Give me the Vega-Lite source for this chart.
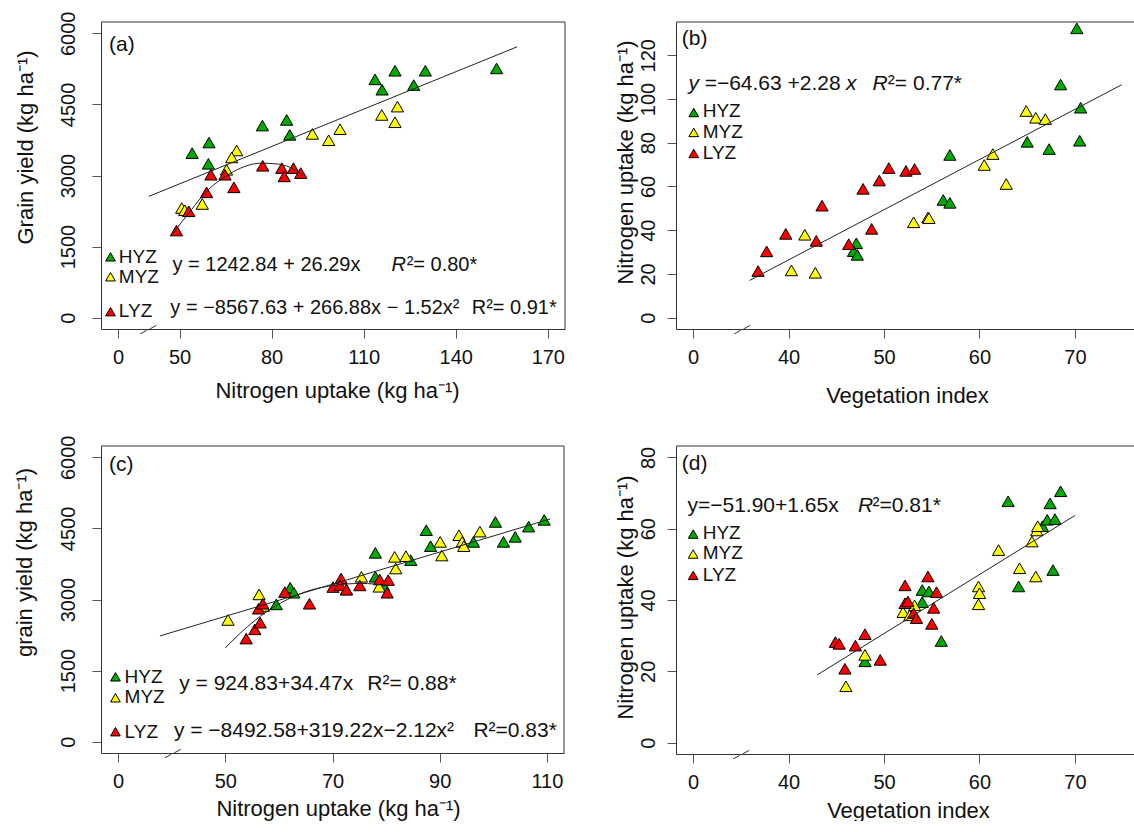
{
  "$schema": "https://vega.github.io/schema/vega-lite/v6.json",
  "background": "white",
  "padding": {"left": 12, "top": 11, "right": 0, "bottom": 0},
  "config": {
    "font": "Liberation Sans",
    "view": {"stroke": null},
    "axis": {
      "grid": false, "domain": true, "domainColor": "#333", "domainWidth": 1,
      "tickColor": "#555", "tickSize": 9, "tickWidth": 1,
      "labelFont": "Liberation Sans", "labelFontSize": 20, "labelColor": "#111",
      "titleFont": "Liberation Sans", "titleFontSize": 22, "titleFontWeight": "normal", "titleColor": "#111",
      "labelFlush": false, "labelOverlap": false
    },
    "axisY": {"labelAngle": -90, "labelAlign": "center", "labelBaseline": "alphabetic", "titleAngle": -90, "titleAlign": "center", "titleBaseline": "alphabetic", "format": "d"},
    "axisX": {"labelPadding": 9, "titleBaseline": "alphabetic", "titleAlign": "center"},
    "text": {"font": "Liberation Sans", "color": "#111", "align": "left", "baseline": "middle", "fontSize": 20},
    "line": {"color": "#222", "strokeWidth": 1},
    "rule": {"color": "#333", "strokeWidth": 1}
  },
  "datasets": {
    "a": [
      {"g":"HYZ","x":54.1,"y":3472},{"g":"HYZ","x":59.6,"y":3696},{"g":"HYZ","x":59.4,"y":3247},{"g":"HYZ","x":77.0,"y":4054},{"g":"HYZ","x":84.9,"y":4173},{"g":"HYZ","x":85.9,"y":3857},{"g":"HYZ","x":113.7,"y":5029},{"g":"HYZ","x":120.2,"y":5211},{"g":"HYZ","x":116.0,"y":4811},{"g":"HYZ","x":130.1,"y":5211},{"g":"HYZ","x":126.3,"y":4909},{"g":"HYZ","x":153.3,"y":5260},
      {"g":"MYZ","x":68.6,"y":3528},{"g":"MYZ","x":67.0,"y":3381},{"g":"MYZ","x":65.3,"y":3120},{"g":"MYZ","x":57.4,"y":2399},{"g":"MYZ","x":50.7,"y":2314},{"g":"MYZ","x":51.7,"y":2266},{"g":"MYZ","x":93.3,"y":3878},{"g":"MYZ","x":98.6,"y":3745},{"g":"MYZ","x":102.3,"y":3977},{"g":"MYZ","x":115.9,"y":4278},{"g":"MYZ","x":121.0,"y":4454},{"g":"MYZ","x":120.2,"y":4124},
      {"g":"LYZ","x":49.0,"y":1838},{"g":"LYZ","x":53.0,"y":2245},{"g":"LYZ","x":58.8,"y":2644},{"g":"LYZ","x":60.2,"y":3016},{"g":"LYZ","x":64.8,"y":3016},{"g":"LYZ","x":67.7,"y":2750},{"g":"LYZ","x":77.1,"y":3205},{"g":"LYZ","x":83.3,"y":3156},{"g":"LYZ","x":84.1,"y":2981},{"g":"LYZ","x":87.1,"y":3156},{"g":"LYZ","x":89.5,"y":3051}
    ],
    "a_lin": [{"x":40,"y":2560},{"x":160,"y":5716}],
    "a_quad": [{"x":47.1,"y":1719},{"x":53.9,"y":2279},{"x":58.3,"y":2630},{"x":65.9,"y":3016},{"x":71.3,"y":3192},{"x":76.7,"y":3261},{"x":82.2,"y":3240},{"x":87.6,"y":3120},{"x":90.3,"y":2994}],
    "b": [
      {"g":"HYZ","x":47.1,"y":34.0},{"g":"HYZ","x":46.8,"y":30.4},{"g":"HYZ","x":47.2,"y":28.7},{"g":"HYZ","x":56.2,"y":53.8},{"g":"HYZ","x":56.9,"y":52.5},{"g":"HYZ","x":56.9,"y":74.4},{"g":"HYZ","x":65.0,"y":80.4},{"g":"HYZ","x":67.3,"y":77.1},{"g":"HYZ","x":68.5,"y":106.6},{"g":"HYZ","x":70.2,"y":132.3},{"g":"HYZ","x":70.6,"y":96.0},{"g":"HYZ","x":70.5,"y":80.9},
      {"g":"MYZ","x":40.3,"y":21.6},{"g":"MYZ","x":41.7,"y":37.9},{"g":"MYZ","x":42.8,"y":20.5},{"g":"MYZ","x":53.1,"y":43.6},{"g":"MYZ","x":54.6,"y":45.8},{"g":"MYZ","x":54.7,"y":45.5},{"g":"MYZ","x":60.5,"y":69.8},{"g":"MYZ","x":61.4,"y":74.8},{"g":"MYZ","x":62.8,"y":61.1},{"g":"MYZ","x":64.9,"y":94.5},{"g":"MYZ","x":65.9,"y":91.4},{"g":"MYZ","x":66.9,"y":90.8},
      {"g":"LYZ","x":36.8,"y":21.3},{"g":"LYZ","x":37.7,"y":30.3},{"g":"LYZ","x":39.7,"y":38.3},{"g":"LYZ","x":42.9,"y":35.1},{"g":"LYZ","x":43.5,"y":51.2},{"g":"LYZ","x":46.3,"y":33.6},{"g":"LYZ","x":47.8,"y":58.9},{"g":"LYZ","x":48.7,"y":40.6},{"g":"LYZ","x":49.5,"y":62.7},{"g":"LYZ","x":50.5,"y":68.4},{"g":"LYZ","x":52.3,"y":67.1},{"g":"LYZ","x":53.2,"y":68.0}
    ],
    "b_lin": [{"x":35.9,"y":17.0},{"x":74.9,"y":106.5}],
    "c": [
      {"g":"HYZ","x":59.5,"y":2897},{"g":"HYZ","x":62.1,"y":3248},{"g":"HYZ","x":62.8,"y":3143},{"g":"HYZ","x":78.0,"y":3985},{"g":"HYZ","x":78.0,"y":3479},{"g":"HYZ","x":79.6,"y":3284},{"g":"HYZ","x":84.6,"y":3831},{"g":"HYZ","x":87.5,"y":4463},{"g":"HYZ","x":88.3,"y":4126},{"g":"HYZ","x":96.3,"y":4216},{"g":"HYZ","x":100.4,"y":4637},{"g":"HYZ","x":101.9,"y":4216},{"g":"HYZ","x":104.1,"y":4322},{"g":"HYZ","x":106.6,"y":4538},{"g":"HYZ","x":109.5,"y":4680},
      {"g":"MYZ","x":50.5,"y":2568},{"g":"MYZ","x":56.3,"y":3107},{"g":"MYZ","x":57.1,"y":2863},{"g":"MYZ","x":72.6,"y":3212},{"g":"MYZ","x":75.4,"y":3479},{"g":"MYZ","x":78.7,"y":3269},{"g":"MYZ","x":81.6,"y":3900},{"g":"MYZ","x":81.8,"y":3654},{"g":"MYZ","x":83.7,"y":3915},{"g":"MYZ","x":90.1,"y":4216},{"g":"MYZ","x":90.4,"y":3928},{"g":"MYZ","x":93.6,"y":4357},{"g":"MYZ","x":94.2,"y":4216},{"g":"MYZ","x":94.5,"y":4126},{"g":"MYZ","x":97.5,"y":4433},
      {"g":"LYZ","x":53.9,"y":2175},{"g":"LYZ","x":55.5,"y":2370},{"g":"LYZ","x":56.5,"y":2511},{"g":"LYZ","x":56.2,"y":2806},{"g":"LYZ","x":57.0,"y":2911},{"g":"LYZ","x":61.1,"y":3157},{"g":"LYZ","x":65.7,"y":2911},{"g":"LYZ","x":70.1,"y":3263},{"g":"LYZ","x":71.6,"y":3444},{"g":"LYZ","x":71.4,"y":3305},{"g":"LYZ","x":72.6,"y":3206},{"g":"LYZ","x":75.1,"y":3297},{"g":"LYZ","x":78.8,"y":3423},{"g":"LYZ","x":80.4,"y":3410},{"g":"LYZ","x":80.2,"y":3143}
    ],
    "c_lin": [{"x":37.8,"y":2231},{"x":110.6,"y":4700}],
    "c_quad": [{"x":50.0,"y":1979},{"x":52.9,"y":2302},{"x":57.9,"y":2757},{"x":61.6,"y":3002},{"x":66.0,"y":3200},{"x":70.3,"y":3297},{"x":75.3,"y":3339},{"x":80.3,"y":3300}],
    "d": [
      {"g":"HYZ","x":48.0,"y":22.8},{"g":"HYZ","x":54.0,"y":42.8},{"g":"HYZ","x":54.7,"y":42.4},{"g":"HYZ","x":54.0,"y":39.4},{"g":"HYZ","x":56.0,"y":28.5},{"g":"HYZ","x":63.0,"y":67.7},{"g":"HYZ","x":64.1,"y":43.8},{"g":"HYZ","x":66.6,"y":60.7},{"g":"HYZ","x":67.1,"y":62.5},{"g":"HYZ","x":67.4,"y":67.1},{"g":"HYZ","x":67.9,"y":62.7},{"g":"HYZ","x":67.7,"y":48.4},{"g":"HYZ","x":68.5,"y":70.5},
      {"g":"MYZ","x":46.0,"y":15.8},{"g":"MYZ","x":48.0,"y":24.6},{"g":"MYZ","x":52.0,"y":36.6},{"g":"MYZ","x":52.7,"y":35.7},{"g":"MYZ","x":53.2,"y":38.5},{"g":"MYZ","x":59.9,"y":43.8},{"g":"MYZ","x":60.0,"y":41.9},{"g":"MYZ","x":59.9,"y":38.8},{"g":"MYZ","x":62.0,"y":54.0},{"g":"MYZ","x":64.2,"y":48.9},{"g":"MYZ","x":65.5,"y":56.4},{"g":"MYZ","x":65.9,"y":46.6},{"g":"MYZ","x":66.0,"y":59.5},{"g":"MYZ","x":66.1,"y":60.7},
      {"g":"LYZ","x":44.9,"y":28.2},{"g":"LYZ","x":45.3,"y":27.7},{"g":"LYZ","x":45.9,"y":20.7},{"g":"LYZ","x":47.0,"y":27.2},{"g":"LYZ","x":48.0,"y":30.4},{"g":"LYZ","x":49.6,"y":23.2},{"g":"LYZ","x":52.2,"y":44.1},{"g":"LYZ","x":52.2,"y":39.1},{"g":"LYZ","x":52.5,"y":39.6},{"g":"LYZ","x":53.1,"y":36.3},{"g":"LYZ","x":53.4,"y":34.9},{"g":"LYZ","x":54.6,"y":46.6},{"g":"LYZ","x":55.0,"y":33.3},{"g":"LYZ","x":55.2,"y":37.8},{"g":"LYZ","x":55.5,"y":42.2}
    ],
    "d_lin": [{"x":43.0,"y":19.0},{"x":70.0,"y":63.7}],
    "one": [{}]
  },
  "columns": 2,
  "spacing": {"row": 117, "column": 111},
  "bounds": "flush",
  "resolve": {"scale": {"x": "independent", "y": "independent", "color": "independent"}},
  "concat": [
    {
      "width": 464, "height": 307,
      "layer": [
        {"data": {"name": "one"}, "mark": "rule", "encoding": {"y": {"datum": 6240, "type": "quantitative"}}},
        {"data": {"name": "one"}, "mark": "rule", "encoding": {"x": {"datum": 175.6, "type": "quantitative"}}},
        {"data": {"name": "a"},
         "mark": {"type": "point", "shape": "triangle-up", "filled": true, "size": 150, "stroke": "#000", "strokeWidth": 1, "opacity": 1},
         "encoding": {
           "x": {"field": "x", "type": "quantitative", "scale": {"domain": [24.4, 175.6], "nice": false, "zero": false},
                 "axis": {"values": [30, 50, 80, 110, 140, 170], "labelExpr": "datum.value == 30 ? '0' : datum.label", "title": "Nitrogen uptake (kg ha⁻¹)", "titleX": 236, "titleY": 68}},
           "y": {"field": "y", "type": "quantitative", "scale": {"domain": [-240, 6240], "nice": false, "zero": false},
                 "axis": {"values": [0, 1500, 3000, 4500, 6000], "title": "Grain yield (kg ha⁻¹)", "titleX": -69, "titleY": 125, "labelPadding": 18}},
           "color": {"field": "g", "type": "nominal", "scale": {"domain": ["HYZ", "MYZ", "LYZ"], "range": ["#00AA00", "#FFFF00", "#FF0000"]}, "legend": null}
         }},
        {"data": {"name": "a_lin"}, "mark": "line", "encoding": {"x": {"field": "x", "type": "quantitative"}, "y": {"field": "y", "type": "quantitative"}}},
        {"data": {"name": "a_quad"}, "mark": {"type": "line", "interpolate": "monotone"}, "encoding": {"x": {"field": "x", "type": "quantitative"}, "y": {"field": "y", "type": "quantitative"}}},
        {"data": {"name": "one"}, "mark": {"type": "text", "text": "(a)", "fontSize": 21}, "encoding": {"x": {"datum": 27.0}, "y": {"datum": 5750}}},
        {"data": {"name": "one"}, "mark": {"type": "point", "shape": "triangle-up", "filled": true, "size": 95, "fill": "#00AA00", "stroke": "#000", "strokeWidth": 1, "opacity": 1}, "encoding": {"x": {"datum": 27.5}, "y": {"datum": 1283}}},
        {"data": {"name": "one"}, "mark": {"type": "point", "shape": "triangle-up", "filled": true, "size": 95, "fill": "#FFFF00", "stroke": "#000", "strokeWidth": 1, "opacity": 1}, "encoding": {"x": {"datum": 27.5}, "y": {"datum": 863}}},
        {"data": {"name": "one"}, "mark": {"type": "point", "shape": "triangle-up", "filled": true, "size": 95, "fill": "#FF0000", "stroke": "#000", "strokeWidth": 1, "opacity": 1}, "encoding": {"x": {"datum": 27.5}, "y": {"datum": 126}}},
        {"data": {"name": "one"}, "mark": {"type": "text", "text": "HYZ", "fontSize": 19}, "encoding": {"x": {"datum": 30.2}, "y": {"datum": 1283}}},
        {"data": {"name": "one"}, "mark": {"type": "text", "text": "MYZ", "fontSize": 19}, "encoding": {"x": {"datum": 30.2}, "y": {"datum": 863}}},
        {"data": {"name": "one"}, "mark": {"type": "text", "text": "LYZ", "fontSize": 19}, "encoding": {"x": {"datum": 30.2}, "y": {"datum": 130}}},
        {"data": {"name": "one"}, "mark": {"type": "text", "text": "y = 1242.84 + 26.29x"}, "encoding": {"x": {"datum": 47.7}, "y": {"datum": 1121}}},
        {"data": {"name": "one"}, "mark": {"type": "text", "text": "R", "fontStyle": "italic"}, "encoding": {"x": {"datum": 119.1}, "y": {"datum": 1121}}},
        {"data": {"name": "one"}, "mark": {"type": "text", "text": "²= 0.80*"}, "encoding": {"x": {"datum": 124.0}, "y": {"datum": 1121}}},
        {"data": {"name": "one"}, "mark": {"type": "text", "text": "y = −8567.63 + 266.88x − 1.52x²"}, "encoding": {"x": {"datum": 47.0}, "y": {"datum": 210}}},
        {"data": {"name": "one"}, "mark": {"type": "text", "text": "R²= 0.91*"}, "encoding": {"x": {"datum": 145.2}, "y": {"datum": 210}}},
        {"data": {"name": "one"}, "mark": {"type": "text", "text": "– –", "align": "center", "fontSize": 13, "angle": -28, "color": "#333"}, "encoding": {"x": {"datum": 39.7}, "y": {"datum": -240}}}
      ]
    },
    {
      "width": 460, "height": 307,
      "layer": [
        {"data": {"name": "one"}, "mark": "rule", "encoding": {"y": {"datum": 135.2, "type": "quantitative"}}},
        {"data": {"name": "b"},
         "mark": {"type": "point", "shape": "triangle-up", "filled": true, "size": 150, "stroke": "#000", "strokeWidth": 1, "opacity": 1},
         "encoding": {
           "x": {"field": "x", "type": "quantitative", "scale": {"domain": [28.2, 76.4], "nice": false, "zero": false},
                 "axis": {"values": [30, 40, 50, 60, 70], "labelExpr": "datum.value == 30 ? '0' : datum.label", "title": "Vegetation index", "titleX": 231, "titleY": 73}},
           "y": {"field": "y", "type": "quantitative", "scale": {"domain": [-5.2, 135.2], "nice": false, "zero": false},
                 "axis": {"values": [0, 20, 40, 60, 80, 100, 120], "title": "Nitrogen uptake (kg ha⁻¹)", "titleX": -44, "titleY": 140, "labelPadding": 13}},
           "color": {"field": "g", "type": "nominal", "scale": {"domain": ["HYZ", "MYZ", "LYZ"], "range": ["#00AA00", "#FFFF00", "#FF0000"]}, "legend": null}
         }},
        {"data": {"name": "b_lin"}, "mark": "line", "encoding": {"x": {"field": "x", "type": "quantitative"}, "y": {"field": "y", "type": "quantitative"}}},
        {"data": {"name": "one"}, "mark": {"type": "text", "text": "(b)", "fontSize": 21}, "encoding": {"x": {"datum": 28.8}, "y": {"datum": 127.3}}},
        {"data": {"name": "one"}, "mark": {"type": "text", "text": "y", "fontStyle": "italic", "fontSize": 21}, "encoding": {"x": {"datum": 29.5}, "y": {"datum": 106.8}}},
        {"data": {"name": "one"}, "mark": {"type": "text", "text": "=−64.63 +2.28", "fontSize": 21}, "encoding": {"x": {"datum": 31.2}, "y": {"datum": 106.8}}},
        {"data": {"name": "one"}, "mark": {"type": "text", "text": "x", "fontStyle": "italic", "fontSize": 21}, "encoding": {"x": {"datum": 46.0}, "y": {"datum": 106.8}}},
        {"data": {"name": "one"}, "mark": {"type": "text", "text": "R", "fontStyle": "italic", "fontSize": 21}, "encoding": {"x": {"datum": 48.8}, "y": {"datum": 106.8}}},
        {"data": {"name": "one"}, "mark": {"type": "text", "text": "²= 0.77*", "fontSize": 21}, "encoding": {"x": {"datum": 50.4}, "y": {"datum": 106.8}}},
        {"data": {"name": "one"}, "mark": {"type": "point", "shape": "triangle-up", "filled": true, "size": 95, "fill": "#00AA00", "stroke": "#000", "strokeWidth": 1, "opacity": 1}, "encoding": {"x": {"datum": 30.06}, "y": {"datum": 93.8}}},
        {"data": {"name": "one"}, "mark": {"type": "point", "shape": "triangle-up", "filled": true, "size": 95, "fill": "#FFFF00", "stroke": "#000", "strokeWidth": 1, "opacity": 1}, "encoding": {"x": {"datum": 30.06}, "y": {"datum": 84.7}}},
        {"data": {"name": "one"}, "mark": {"type": "point", "shape": "triangle-up", "filled": true, "size": 95, "fill": "#FF0000", "stroke": "#000", "strokeWidth": 1, "opacity": 1}, "encoding": {"x": {"datum": 30.06}, "y": {"datum": 75.1}}},
        {"data": {"name": "one"}, "mark": {"type": "text", "text": "HYZ", "fontSize": 19}, "encoding": {"x": {"datum": 31.0}, "y": {"datum": 94.3}}},
        {"data": {"name": "one"}, "mark": {"type": "text", "text": "MYZ", "fontSize": 19}, "encoding": {"x": {"datum": 31.0}, "y": {"datum": 85.0}}},
        {"data": {"name": "one"}, "mark": {"type": "text", "text": "LYZ", "fontSize": 19}, "encoding": {"x": {"datum": 31.0}, "y": {"datum": 75.2}}},
        {"data": {"name": "one"}, "mark": {"type": "text", "text": "– –", "align": "center", "fontSize": 13, "angle": -28, "color": "#333"}, "encoding": {"x": {"datum": 35.1}, "y": {"datum": -5.2}}}
      ]
    },
    {
      "width": 463, "height": 307,
      "layer": [
        {"data": {"name": "one"}, "mark": "rule", "encoding": {"y": {"datum": 6240, "type": "quantitative"}}},
        {"data": {"name": "one"}, "mark": "rule", "encoding": {"x": {"datum": 113.2, "type": "quantitative"}}},
        {"data": {"name": "c"},
         "mark": {"type": "point", "shape": "triangle-up", "filled": true, "size": 150, "stroke": "#000", "strokeWidth": 1, "opacity": 1},
         "encoding": {
           "x": {"field": "x", "type": "quantitative", "scale": {"domain": [26.8, 113.2], "nice": false, "zero": false},
                 "axis": {"values": [30, 50, 70, 90, 110], "labelExpr": "datum.value == 30 ? '0' : datum.label", "title": "Nitrogen uptake (kg ha⁻¹)", "titleX": 237, "titleY": 62}},
           "y": {"field": "y", "type": "quantitative", "scale": {"domain": [-240, 6240], "nice": false, "zero": false},
                 "axis": {"values": [0, 1500, 3000, 4500, 6000], "title": "grain yield (kg ha⁻¹)", "titleX": -70, "titleY": 116, "labelPadding": 18}},
           "color": {"field": "g", "type": "nominal", "scale": {"domain": ["HYZ", "MYZ", "LYZ"], "range": ["#00AA00", "#FFFF00", "#FF0000"]}, "legend": null}
         }},
        {"data": {"name": "c_lin"}, "mark": "line", "encoding": {"x": {"field": "x", "type": "quantitative"}, "y": {"field": "y", "type": "quantitative"}}},
        {"data": {"name": "c_quad"}, "mark": {"type": "line", "interpolate": "monotone"}, "encoding": {"x": {"field": "x", "type": "quantitative"}, "y": {"field": "y", "type": "quantitative"}}},
        {"data": {"name": "one"}, "mark": {"type": "text", "text": "(c)", "fontSize": 21}, "encoding": {"x": {"datum": 28.3}, "y": {"datum": 5843}}},
        {"data": {"name": "one"}, "mark": {"type": "point", "shape": "triangle-up", "filled": true, "size": 95, "fill": "#00AA00", "stroke": "#000", "strokeWidth": 1, "opacity": 1}, "encoding": {"x": {"datum": 29.5}, "y": {"datum": 1368}}},
        {"data": {"name": "one"}, "mark": {"type": "point", "shape": "triangle-up", "filled": true, "size": 95, "fill": "#FFFF00", "stroke": "#000", "strokeWidth": 1, "opacity": 1}, "encoding": {"x": {"datum": 29.5}, "y": {"datum": 926}}},
        {"data": {"name": "one"}, "mark": {"type": "point", "shape": "triangle-up", "filled": true, "size": 95, "fill": "#FF0000", "stroke": "#000", "strokeWidth": 1, "opacity": 1}, "encoding": {"x": {"datum": 29.5}, "y": {"datum": 210}}},
        {"data": {"name": "one"}, "mark": {"type": "text", "text": "HYZ", "fontSize": 19}, "encoding": {"x": {"datum": 31.2}, "y": {"datum": 1370}}},
        {"data": {"name": "one"}, "mark": {"type": "text", "text": "MYZ", "fontSize": 19}, "encoding": {"x": {"datum": 31.2}, "y": {"datum": 940}}},
        {"data": {"name": "one"}, "mark": {"type": "text", "text": "LYZ", "fontSize": 19}, "encoding": {"x": {"datum": 31.2}, "y": {"datum": 213}}},
        {"data": {"name": "one"}, "mark": {"type": "text", "text": "y = 924.83+34.47x", "fontSize": 21}, "encoding": {"x": {"datum": 41.4}, "y": {"datum": 1212}}},
        {"data": {"name": "one"}, "mark": {"type": "text", "text": "R²= 0.88*", "fontSize": 21}, "encoding": {"x": {"datum": 76.5}, "y": {"datum": 1212}}},
        {"data": {"name": "one"}, "mark": {"type": "text", "text": "y = −8492.58+319.22x−2.12x²", "fontSize": 21}, "encoding": {"x": {"datum": 40.4}, "y": {"datum": 232}}},
        {"data": {"name": "one"}, "mark": {"type": "text", "text": "R²=0.83*", "fontSize": 21}, "encoding": {"x": {"datum": 96.3}, "y": {"datum": 232}}},
        {"data": {"name": "one"}, "mark": {"type": "text", "text": "– –", "align": "center", "fontSize": 13, "angle": -28, "color": "#333"}, "encoding": {"x": {"datum": 40.1}, "y": {"datum": -240}}}
      ]
    },
    {
      "width": 460, "height": 308,
      "layer": [
        {"data": {"name": "one"}, "mark": "rule", "encoding": {"y": {"datum": 83.2, "type": "quantitative"}}},
        {"data": {"name": "d"},
         "mark": {"type": "point", "shape": "triangle-up", "filled": true, "size": 150, "stroke": "#000", "strokeWidth": 1, "opacity": 1},
         "encoding": {
           "x": {"field": "x", "type": "quantitative", "scale": {"domain": [28.2, 76.4], "nice": false, "zero": false},
                 "axis": {"values": [30, 40, 50, 60, 70], "labelExpr": "datum.value == 30 ? '0' : datum.label", "title": "Vegetation index", "titleX": 232, "titleY": 63}},
           "y": {"field": "y", "type": "quantitative", "scale": {"domain": [-3.2, 83.2], "nice": false, "zero": false},
                 "axis": {"values": [0, 20, 40, 60, 80], "title": "Nitrogen uptake (kg ha⁻¹)", "titleX": -44, "titleY": 151, "labelPadding": 13}},
           "color": {"field": "g", "type": "nominal", "scale": {"domain": ["HYZ", "MYZ", "LYZ"], "range": ["#00AA00", "#FFFF00", "#FF0000"]}, "legend": null}
         }},
        {"data": {"name": "d_lin"}, "mark": "line", "encoding": {"x": {"field": "x", "type": "quantitative"}, "y": {"field": "y", "type": "quantitative"}}},
        {"data": {"name": "one"}, "mark": {"type": "text", "text": "(d)", "fontSize": 21}, "encoding": {"x": {"datum": 28.8}, "y": {"datum": 78.1}}},
        {"data": {"name": "one"}, "mark": {"type": "text", "text": "y=−51.90+1.65x", "fontSize": 21}, "encoding": {"x": {"datum": 29.4}, "y": {"datum": 66.5}}},
        {"data": {"name": "one"}, "mark": {"type": "text", "text": "R", "fontStyle": "italic", "fontSize": 21}, "encoding": {"x": {"datum": 47.26}, "y": {"datum": 66.5}}},
        {"data": {"name": "one"}, "mark": {"type": "text", "text": "²=0.81*", "fontSize": 21}, "encoding": {"x": {"datum": 48.8}, "y": {"datum": 66.5}}},
        {"data": {"name": "one"}, "mark": {"type": "point", "shape": "triangle-up", "filled": true, "size": 95, "fill": "#00AA00", "stroke": "#000", "strokeWidth": 1, "opacity": 1}, "encoding": {"x": {"datum": 30.0}, "y": {"datum": 58.5}}},
        {"data": {"name": "one"}, "mark": {"type": "point", "shape": "triangle-up", "filled": true, "size": 95, "fill": "#FFFF00", "stroke": "#000", "strokeWidth": 1, "opacity": 1}, "encoding": {"x": {"datum": 30.0}, "y": {"datum": 52.9}}},
        {"data": {"name": "one"}, "mark": {"type": "point", "shape": "triangle-up", "filled": true, "size": 95, "fill": "#FF0000", "stroke": "#000", "strokeWidth": 1, "opacity": 1}, "encoding": {"x": {"datum": 30.0}, "y": {"datum": 46.9}}},
        {"data": {"name": "one"}, "mark": {"type": "text", "text": "HYZ", "fontSize": 19}, "encoding": {"x": {"datum": 31.0}, "y": {"datum": 58.7}}},
        {"data": {"name": "one"}, "mark": {"type": "text", "text": "MYZ", "fontSize": 19}, "encoding": {"x": {"datum": 31.0}, "y": {"datum": 53.1}}},
        {"data": {"name": "one"}, "mark": {"type": "text", "text": "LYZ", "fontSize": 19}, "encoding": {"x": {"datum": 31.0}, "y": {"datum": 47.0}}},
        {"data": {"name": "one"}, "mark": {"type": "text", "text": "– –", "align": "center", "fontSize": 13, "angle": -28, "color": "#333"}, "encoding": {"x": {"datum": 35.0}, "y": {"datum": -3.2}}}
      ]
    }
  ]
}
